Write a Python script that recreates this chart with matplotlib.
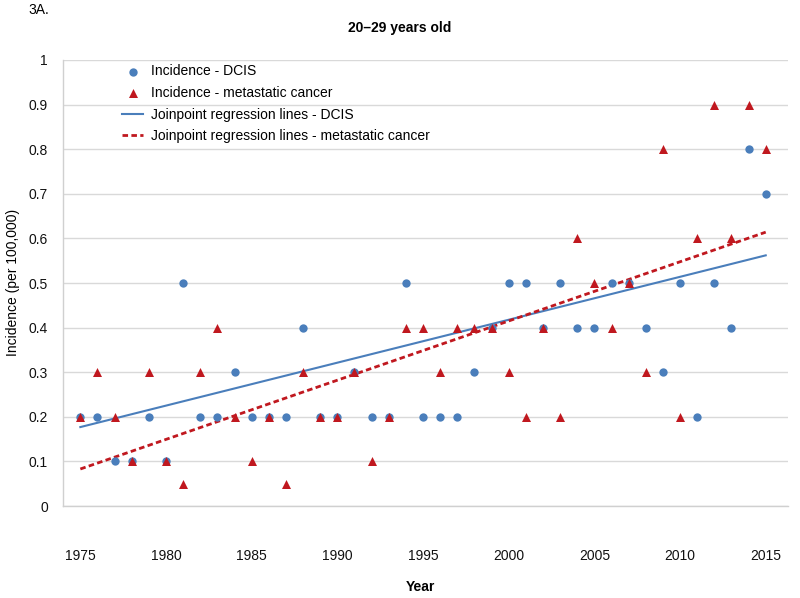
import matplotlib
matplotlib.use("Agg")
import matplotlib.pyplot as plt
import numpy as np

plt.rcParams['font.family'] = ['Liberation Sans', 'DejaVu Sans']

years = list(range(1975, 2016))
dcis = [0.2, 0.2, 0.1, 0.1, 0.2, 0.1, 0.5, 0.2, 0.2, 0.3,
        0.2, 0.2, 0.2, 0.4, 0.2, 0.2, 0.3, 0.2, 0.2, 0.5,
        0.2, 0.2, 0.2, 0.3, 0.4, 0.5, 0.5, 0.4, 0.5, 0.4,
        0.4, 0.5, 0.5, 0.4, 0.3, 0.5, 0.2, 0.5, 0.4, 0.8, 0.7]
metastatic = [0.2, 0.3, 0.2, 0.1, 0.3, 0.1, 0.05, 0.3, 0.4, 0.2,
              0.1, 0.2, 0.05, 0.3, 0.2, 0.2, 0.3, 0.1, 0.2, 0.4,
              0.4, 0.3, 0.4, 0.4, 0.4, 0.3, 0.2, 0.4, 0.2, 0.6,
              0.5, 0.4, 0.5, 0.3, 0.8, 0.2, 0.6, 0.9, 0.6, 0.9, 0.8]
fit_years = [1975, 2015]
fit_dcis = [0.177, 0.562]
fit_meta = [0.083, 0.614]
xtick_years = [1975, 1980, 1985, 1990, 1995, 2000, 2005, 2010, 2015]

blue = '#4A7EBB'
red = '#C0181F'

fig = plt.figure(figsize=(8, 5.98), dpi=100)
ax = fig.add_axes([0.079, 0.1538, 0.906, 0.7459])

ax.scatter(years, dcis, marker='o', s=36, color=blue, zorder=3,
           label='Incidence - DCIS', linewidths=0)
ax.scatter(years, metastatic, marker='^', s=42, color=red, zorder=4,
           label='Incidence - metastatic cancer', linewidths=0)
ax.plot(fit_years, fit_dcis, color=blue, lw=1.5, zorder=2,
        label='Joinpoint regression lines - DCIS')
ax.plot(fit_years, fit_meta, color=red, lw=2.0, ls=(0, (2.0, 1.2)), zorder=2,
        label='Joinpoint regression lines - metastatic cancer')

ax.set_xlim(1974.0, 2016.3)
ax.set_ylim(0, 1)
ax.set_yticks(np.arange(0, 1.01, 0.1))
ax.set_yticklabels(['0', '0.1', '0.2', '0.3', '0.4', '0.5', '0.6', '0.7', '0.8', '0.9', '1'])
ax.set_xticks(xtick_years)
ax.set_xticklabels([str(y) for y in xtick_years])
ax.tick_params(axis='both', length=0, labelsize=10, colors='#111111')
ax.tick_params(axis='x', pad=31)
ax.tick_params(axis='y', pad=11)

ax.grid(axis='y', color='#D9D9D9', lw=1.0)
ax.set_axisbelow(True)
for s in ['top', 'right']:
    ax.spines[s].set_visible(False)
for s in ['left', 'bottom']:
    ax.spines[s].set_color('#D0D0D0')
    ax.spines[s].set_linewidth(1.0)

leg = ax.legend(loc='upper left', bbox_to_anchor=(0.07, 1.009), frameon=False,
                fontsize=10, handlelength=1.5, labelspacing=0.55,
                handletextpad=0.6, scatterpoints=1, borderaxespad=0.2)

fig.text(0.5, 0.953, '20–29 years old', ha='center', va='center',
         fontsize=10, fontweight='bold')
fig.text(0.035, 0.983, '3A.', ha='left', va='center', fontsize=10)
fig.text(0.526, 0.018, 'Year', ha='center', va='center',
         fontsize=10, fontweight='bold')
fig.text(0.016, 0.527, 'Incidence (per 100,000)', ha='center', va='center',
         rotation=90, fontsize=10)

fig.savefig('out.png', dpi=100)
